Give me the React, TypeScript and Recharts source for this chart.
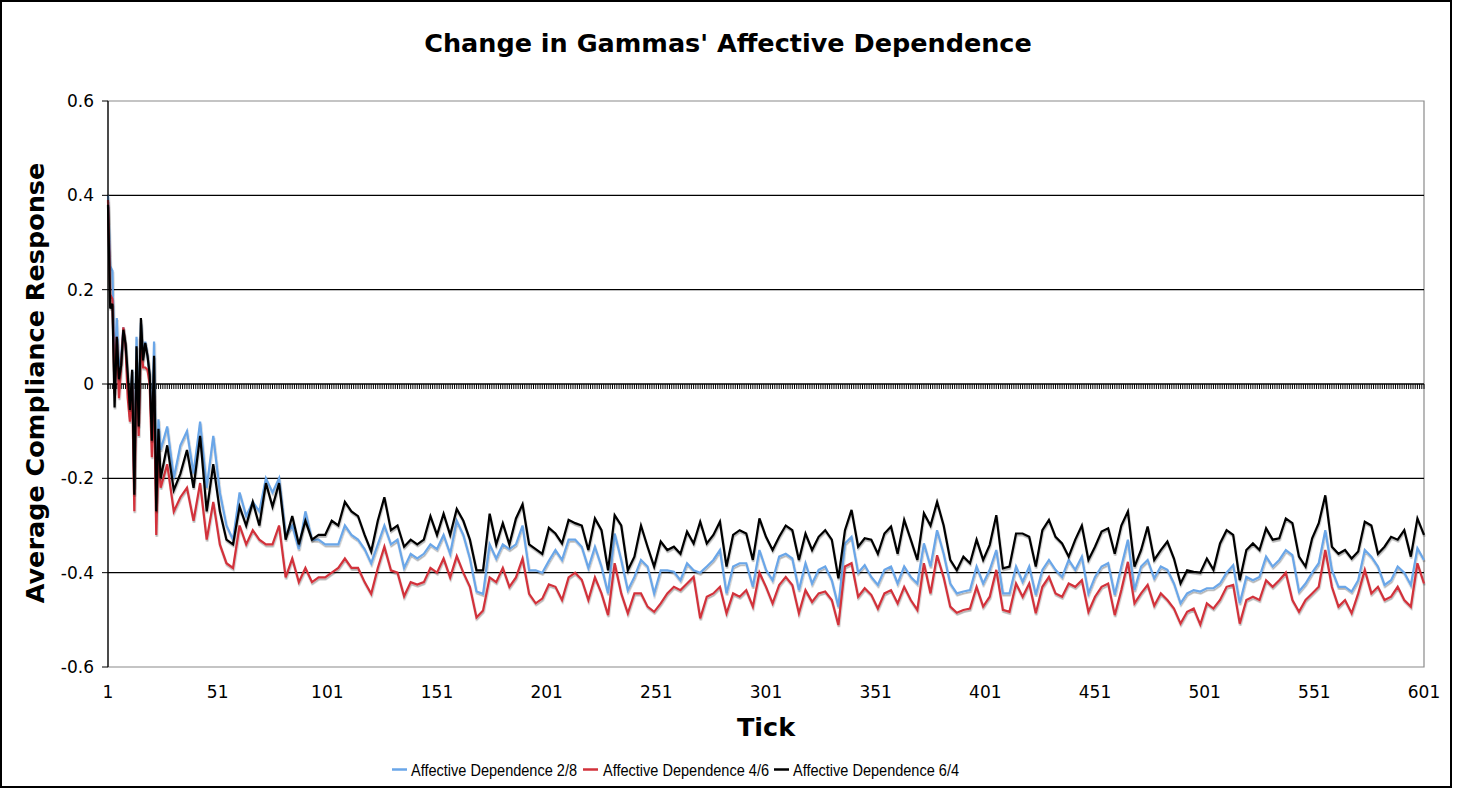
import React from "react";
import { LineChart, Line, XAxis, YAxis, ReferenceLine, ReferenceArea } from "recharts";

// tick numbers of the sampled points
const ticks = [
  1, 2, 3, 4, 5, 6, 7, 8, 9, 10, 11, 12, 13, 14, 15, 16, 17, 18, 19, 20, 21, 22, 23, 24,
  25, 28, 31, 34, 37, 40, 43, 46, 49, 52, 55, 58, 61, 64, 67, 70, 73, 76, 79, 82, 85, 88, 91, 94, 97, 100, 103,
  106, 109, 112, 115, 118, 121, 124, 127, 130, 133, 136, 139, 142, 145, 148, 151, 154, 157, 160, 163, 166, 169,
  172, 175, 178, 181, 184, 187, 190, 193, 196, 199, 202,
  205, 208, 211, 214, 217, 220, 223, 226, 229, 232, 235, 238, 241, 244, 247, 250, 253, 256, 259, 262, 265, 268,
  271, 274, 277, 280, 283, 286, 289, 292, 295, 298,
  301, 304, 307, 310, 313, 316, 319, 322, 325, 328, 331, 334, 337, 340, 343, 346, 349, 352, 355, 358, 361, 364,
  367, 370, 373, 376, 379, 382, 385, 388, 391, 394, 397,
  400, 403, 406, 409, 412, 415, 418, 421, 424, 427, 430, 433, 436, 439, 442, 445, 448, 451, 454, 457, 460, 463,
  466, 469, 472, 475, 478, 481, 484, 487, 490, 493, 496,
  499, 502, 505, 508, 511, 514, 517, 520, 523, 526, 529, 532, 535, 538, 541, 544, 547, 550, 553, 556, 559, 562,
  565, 568, 571, 574, 577, 580, 583, 586, 589, 592, 595, 598, 601,
];

// Affective Dependence 2/8
const dep28 = [
  0.4, 0.25, 0.24, 0.02, 0.14, 0.02, 0.06, 0.12, 0.08, 0.0, -0.07, 0.03, -0.22, 0.1, -0.08, 0.13, 0.06, 0.09, 0.06, 0.02, -0.1, 0.09, -0.25, -0.075,
  -0.14, -0.09, -0.2, -0.13, -0.1, -0.19, -0.08, -0.22, -0.11, -0.23, -0.3, -0.33, -0.23, -0.28, -0.25, -0.27, -0.2, -0.23, -0.2, -0.32, -0.3, -0.35, -0.27, -0.33, -0.33, -0.34, -0.34,
  -0.34, -0.3, -0.32, -0.33, -0.35, -0.38, -0.34, -0.3, -0.34, -0.33, -0.39, -0.36, -0.37, -0.36, -0.34, -0.35, -0.32, -0.36, -0.29, -0.32, -0.37, -0.44,
  -0.445, -0.34, -0.37, -0.34, -0.35, -0.34, -0.3, -0.395, -0.395, -0.4, -0.375,
  -0.352, -0.373, -0.33, -0.33, -0.345, -0.39, -0.345, -0.387, -0.444, -0.317, -0.373, -0.437, -0.409, -0.373, -0.387, -0.444, -0.395, -0.395, -0.398, -0.416, -0.38, -0.395,
  -0.4, -0.387, -0.373, -0.352, -0.444, -0.387, -0.38, -0.38, -0.43, -0.352,
  -0.394, -0.416, -0.366, -0.36, -0.37, -0.437, -0.38, -0.423, -0.394, -0.387, -0.416, -0.472, -0.338, -0.324, -0.4, -0.384, -0.409, -0.426, -0.394, -0.387, -0.423, -0.387,
  -0.409, -0.423, -0.338, -0.387, -0.31, -0.36, -0.423, -0.444, -0.44, -0.437, -0.387,
  -0.423, -0.394, -0.352, -0.444, -0.444, -0.387, -0.419, -0.387, -0.447, -0.394, -0.373, -0.394, -0.409, -0.373, -0.394, -0.366, -0.444, -0.409, -0.387, -0.38, -0.447, -0.387,
  -0.33, -0.437, -0.387, -0.373, -0.412, -0.387, -0.394, -0.423, -0.465, -0.444, -0.437,
  -0.44, -0.433, -0.433, -0.423, -0.4, -0.384, -0.465, -0.409, -0.416, -0.409, -0.366, -0.387, -0.373, -0.352, -0.363, -0.44, -0.423, -0.4, -0.38, -0.31, -0.394, -0.43,
  -0.43, -0.44, -0.416, -0.352, -0.366, -0.387, -0.426, -0.416, -0.387, -0.4, -0.426, -0.348, -0.373,
];

// Affective Dependence 4/6
const dep46 = [
  0.39, 0.19, 0.18, -0.02, 0.1, -0.03, 0.04, 0.12, 0.08, -0.03, -0.08, 0.0, -0.27, 0.05, -0.11, 0.1, 0.035, 0.035, 0.03, 0.0, -0.155, -0.02, -0.32, -0.15,
  -0.22, -0.17, -0.27, -0.24, -0.22, -0.29, -0.21, -0.33, -0.25, -0.34, -0.38, -0.39, -0.3, -0.34, -0.31, -0.33, -0.34, -0.34, -0.3, -0.41, -0.37, -0.42, -0.39, -0.42, -0.41, -0.41, -0.4,
  -0.39, -0.37, -0.39, -0.39, -0.42, -0.445, -0.39, -0.345, -0.395, -0.4, -0.45, -0.42, -0.425, -0.42, -0.39, -0.4, -0.37, -0.41, -0.365, -0.4, -0.43, -0.495,
  -0.48, -0.41, -0.42, -0.39, -0.43, -0.41, -0.37, -0.445, -0.465, -0.455, -0.425,
  -0.43, -0.458, -0.41, -0.4, -0.415, -0.458, -0.41, -0.444, -0.49, -0.38, -0.444, -0.486, -0.444, -0.444, -0.472, -0.483, -0.465, -0.444, -0.43, -0.437, -0.423, -0.409,
  -0.497, -0.451, -0.444, -0.43, -0.486, -0.444, -0.451, -0.437, -0.472, -0.4,
  -0.43, -0.465, -0.426, -0.409, -0.426, -0.486, -0.437, -0.462, -0.444, -0.44, -0.458, -0.511, -0.387, -0.38, -0.451, -0.433, -0.447, -0.476, -0.444, -0.437, -0.465, -0.43,
  -0.458, -0.479, -0.38, -0.444, -0.363, -0.41, -0.472, -0.485, -0.479, -0.476, -0.43,
  -0.472, -0.451, -0.394, -0.479, -0.483, -0.423, -0.451, -0.423, -0.486, -0.43, -0.409, -0.444, -0.451, -0.423, -0.43, -0.416, -0.483, -0.451, -0.43, -0.423, -0.49, -0.437,
  -0.377, -0.465, -0.444, -0.426, -0.47, -0.444, -0.458, -0.476, -0.508, -0.483, -0.476,
  -0.51, -0.465, -0.476, -0.458, -0.43, -0.426, -0.508, -0.458, -0.451, -0.458, -0.416, -0.43, -0.416, -0.4, -0.458, -0.483, -0.458, -0.444, -0.43, -0.352, -0.43, -0.472,
  -0.458, -0.486, -0.444, -0.394, -0.444, -0.43, -0.458, -0.451, -0.43, -0.458, -0.472, -0.38, -0.423,
];

// Affective Dependence 6/4
const dep64 = [
  0.38, 0.16, 0.17, -0.05, 0.1, 0.01, 0.04, 0.115, 0.085, 0.02, -0.055, 0.03, -0.235, 0.08, -0.09, 0.14, 0.05, 0.087, 0.06, 0.02, -0.12, 0.06, -0.27, -0.095,
  -0.2, -0.13, -0.225, -0.19, -0.14, -0.22, -0.11, -0.27, -0.17, -0.27, -0.33, -0.34, -0.26, -0.3, -0.25, -0.3, -0.21, -0.26, -0.21, -0.33, -0.28, -0.34, -0.29, -0.33, -0.32, -0.32, -0.29,
  -0.3, -0.25, -0.27, -0.28, -0.32, -0.355, -0.29, -0.24, -0.31, -0.3, -0.345, -0.33, -0.34, -0.33, -0.28, -0.32, -0.275, -0.32, -0.265, -0.29, -0.33, -0.395,
  -0.395, -0.275, -0.34, -0.295, -0.34, -0.285, -0.255, -0.34, -0.35, -0.36, -0.305,
  -0.317, -0.338, -0.288, -0.295, -0.3, -0.352, -0.285, -0.31, -0.395, -0.278, -0.3, -0.395, -0.366, -0.3, -0.345, -0.387, -0.334, -0.352, -0.345, -0.36, -0.313, -0.338,
  -0.292, -0.338, -0.32, -0.292, -0.387, -0.32, -0.31, -0.317, -0.373, -0.285,
  -0.324, -0.352, -0.324, -0.3, -0.31, -0.373, -0.317, -0.352, -0.324, -0.31, -0.33, -0.412, -0.31, -0.267, -0.345, -0.327, -0.33, -0.36, -0.317, -0.302, -0.36, -0.288,
  -0.33, -0.373, -0.274, -0.3, -0.25, -0.3, -0.373, -0.395, -0.366, -0.38, -0.33,
  -0.373, -0.341, -0.278, -0.391, -0.387, -0.317, -0.317, -0.324, -0.387, -0.31, -0.288, -0.324, -0.338, -0.366, -0.33, -0.3, -0.373, -0.345, -0.313, -0.306, -0.36, -0.3,
  -0.27, -0.387, -0.352, -0.302, -0.373, -0.352, -0.334, -0.37, -0.423, -0.395, -0.398,
  -0.4, -0.37, -0.394, -0.338, -0.31, -0.32, -0.416, -0.352, -0.338, -0.352, -0.306, -0.33, -0.327, -0.285, -0.295, -0.366, -0.387, -0.327, -0.295, -0.236, -0.345, -0.36,
  -0.352, -0.37, -0.355, -0.292, -0.3, -0.36, -0.345, -0.324, -0.33, -0.31, -0.366, -0.285, -0.32,
];

const xTicks = [1, 51, 101, 151, 201, 251, 301, 351, 401, 451, 501, 551, 601];
const yTicks = [-0.6, -0.4, -0.2, 0, 0.2, 0.4, 0.6];
const gridValues = [0.4, 0.2, -0.2, -0.4];

const series = [
  { key: "dep28", name: "Affective Dependence 2/8", color: "#6aa6e8" },
  { key: "dep46", name: "Affective Dependence 4/6", color: "#d2323b" },
  { key: "dep64", name: "Affective Dependence 6/4", color: "#000000" },
];

const data = ticks.map((t, i) => ({ tick: t, dep28: dep28[i], dep46: dep46[i], dep64: dep64[i] }));

const FONT = "'DejaVu Sans', Verdana, sans-serif";
const LEGEND_FONT = "'Liberation Sans', Arial, sans-serif";

// zero line with a tick mark for every category, like the excel axis
function ZeroAxis(props: any) {
  const { x1, y1, x2 } = props;
  const n = 600;
  const step = (x2 - x1) / n;
  let d = "";
  for (let i = 0; i <= n; i++) {
    const x = x1 + i * step;
    d += `M${x.toFixed(2)},${y1}v5`;
  }
  return (
    <g>
      <line x1={x1} y1={y1} x2={x2} y2={y1} stroke="#000" strokeWidth={1.3} />
      <path d={d} stroke="#000" strokeWidth={1} fill="none" />
    </g>
  );
}

const legendPos = [
  { lx: 392, tx: 411 },
  { lx: 583, tx: 603 },
  { lx: 774, tx: 793 },
];

export default function App() {
  return (
    <div style={{ position: "absolute", left: 0, top: 0, width: 1457, height: 789, background: "#fff" }}>
      <svg width={0} height={0} style={{ position: "absolute" }}>
        <defs>
          <filter id="lineShadow" x="-5%" y="-5%" width="110%" height="120%">
            <feDropShadow dx="0.5" dy="1.8" stdDeviation="0.6" floodColor="#000" floodOpacity="0.3" />
          </filter>
        </defs>
      </svg>
      <LineChart width={1457} height={789} data={data} margin={{ top: 101, right: 33, bottom: 82, left: 0 }}>
        <ReferenceArea x1={1} x2={601} y1={-0.6} y2={0.6} fill="none" stroke="#8a8a8a" strokeWidth={1.2} />
        {gridValues.map((v) => (
          <ReferenceLine key={v} y={v} stroke="#000" strokeWidth={1.2} />
        ))}
        <XAxis
          dataKey="tick"
          type="number"
          domain={[1, 601]}
          ticks={xTicks}
          interval={0}
          axisLine={false}
          tickLine={false}
          tickSize={0}
          tickMargin={19}
          height={40}
          tick={{ fill: "#000", fontSize: 17, fontFamily: FONT }}
        />
        <YAxis
          type="number"
          domain={[-0.6, 0.6]}
          ticks={yTicks}
          interval={0}
          width={108}
          axisLine={{ stroke: "#000", strokeWidth: 1.2 }}
          tickLine={{ stroke: "#000" }}
          tickSize={6}
          tickMargin={8}
          tick={{ fill: "#000", fontSize: 17, fontFamily: FONT }}
        />
        <ReferenceLine y={0} shape={ZeroAxis} />
        {series.map((s) => (
          <Line
            key={s.key}
            dataKey={s.key}
            name={s.name}
            type="linear"
            stroke={s.color}
            strokeWidth={2.2}
            dot={false}
            activeDot={false}
            isAnimationActive={false}
            filter="url(#lineShadow)"
          />
        ))}
      </LineChart>
      <svg
        width={1457}
        height={789}
        style={{ position: "absolute", left: 0, top: 0, pointerEvents: "none" }}
      >
        <rect x={1} y={1} width={1450} height={786} fill="none" stroke="#000" strokeWidth={2} />
        <text x={728} y={52} textAnchor="middle" fontFamily={FONT} fontWeight="bold" fontSize={25.5} fill="#000">
          Change in Gammas' Affective Dependence
        </text>
        <text
          x={0}
          y={0}
          transform="translate(44,383) rotate(-90)"
          textAnchor="middle"
          fontFamily={FONT}
          fontWeight="bold"
          fontSize={25.5}
          fill="#000"
        >
          Average Compliance Response
        </text>
        <text x={766} y={736} textAnchor="middle" fontFamily={FONT} fontWeight="bold" fontSize={25.5} fill="#000">
          Tick
        </text>
        {series.map((s, i) => (
          <g key={s.key}>
            <line x1={legendPos[i].lx} x2={legendPos[i].lx + 15} y1={769.5} y2={769.5} stroke={s.color} strokeWidth={2.5} />
            <text
              x={legendPos[i].tx}
              y={776}
              fontFamily={LEGEND_FONT}
              fontSize={17}
              fill="#000"
              textLength={166}
              lengthAdjust="spacingAndGlyphs"
            >
              {s.name}
            </text>
          </g>
        ))}
      </svg>
    </div>
  );
}
